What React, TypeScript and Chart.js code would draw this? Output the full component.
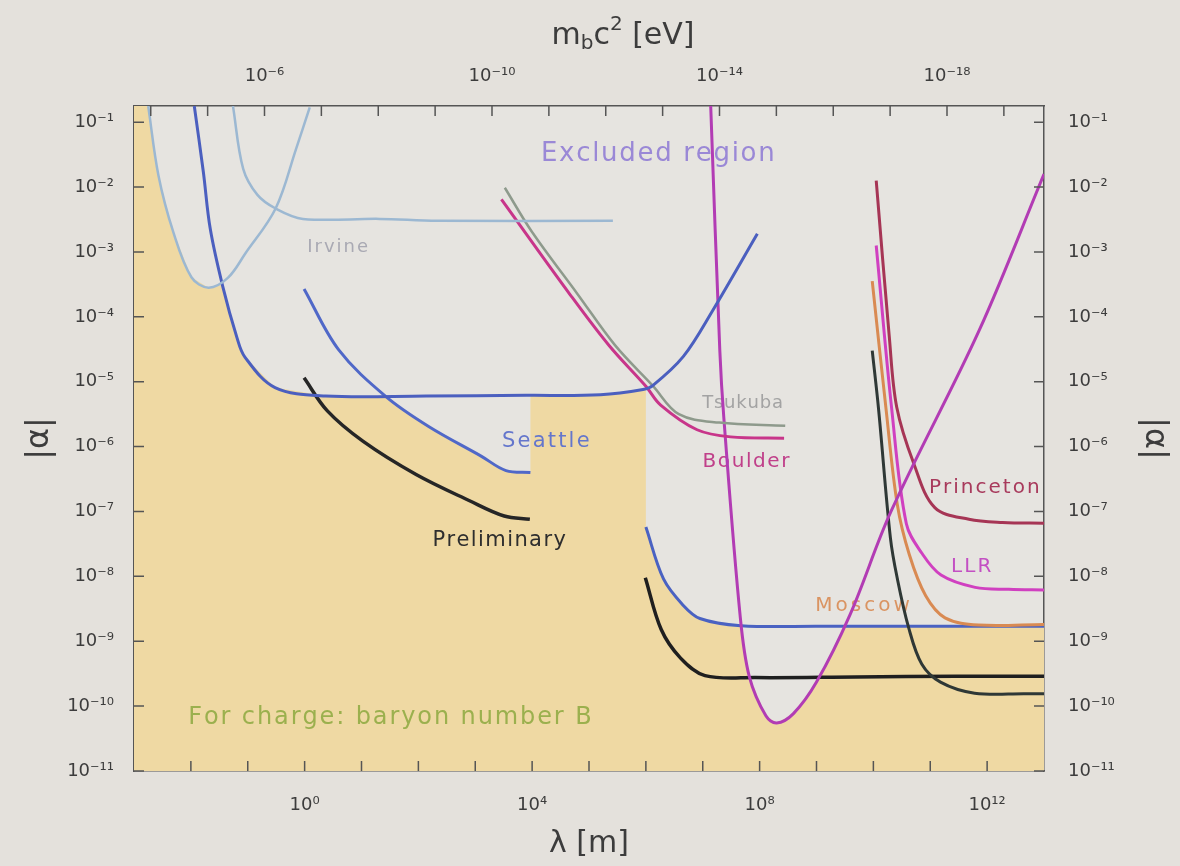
import React, { useEffect, useRef } from "react";
import { Chart, registerables } from "chart.js";

Chart.register(...registerables);

// ---------- axis definitions (exponents) ----------
const HBAR_C_EV_M = 1.97e-7; // m_b c^2 [eV] = ħc / λ
const xTickExps = [-2, -1, 0, 1, 2, 3, 4, 5, 6, 7, 8, 9, 10, 11, 12];
const xLabelExps = [0, 4, 8, 12];
const topMassExps = [-4, -5, -6, -7, -8, -9, -10, -11, -12, -13, -14, -15, -16, -17, -18, -19];
const topLabelExps = [-6, -10, -14, -18];
const yTickExps = [-1, -2, -3, -4, -5, -6, -7, -8, -9, -10, -11];

// ---------- curves: log10 λ [m] and log10 |α| ----------
const irvineALogLambda = [-2.75, -2.57, -2.31, -1.99, -1.69, -1.35, -1.04, -0.51, -0.15, 0.09];
const irvineALogAlpha = [-0.75, -1.82, -2.69, -3.39, -3.55, -3.4, -3.02, -2.33, -1.41, -0.77];

const irvineBLogLambda = [-1.26, -1.08, -0.83, -0.51, -0.03, 1.32, 2.33, 5.42];
const irvineBLogAlpha = [-0.75, -1.72, -2.12, -2.33, -2.49, -2.49, -2.52, -2.52];

const eotWashLogLambda = [-1.94, -1.78, -1.66, -1.44, -1.19, -1.05, -0.52, 0.37, 2.14, 3.9, 5.2, 5.95, 6.12, 6.66, 7.17, 7.96];
const eotWashLogAlpha = [-0.75, -1.77, -2.64, -3.53, -4.32, -4.62, -5.09, -5.22, -5.22, -5.21, -5.2, -5.12, -5.06, -4.61, -3.91, -2.72];

const seattleLogLambda = [-0.01, 0.6, 1.43, 2.18, 3.11, 3.54, 3.97];
const seattleLogAlpha = [-3.57, -4.51, -5.23, -5.69, -6.15, -6.37, -6.4];

const prelimLogLambda = [-0.01, 0.4, 1.03, 1.96, 2.89, 3.51, 3.96];
const prelimLogAlpha = [-4.94, -5.45, -5.92, -6.43, -6.83, -7.07, -7.12];

const tsukubaLogLambda = [3.52, 3.99, 4.8, 5.46, 6.12, 6.58, 7.29, 8.45];
const tsukubaLogAlpha = [-2.01, -2.68, -3.65, -4.44, -5.06, -5.5, -5.63, -5.68];

const boulderLogLambda = [3.46, 4.67, 5.36, 6.0, 6.26, 6.9, 7.49, 8.43];
const boulderLogAlpha = [-2.19, -3.66, -4.45, -5.07, -5.36, -5.74, -5.85, -5.87];

const dipLogLambda = [7.14, 7.3, 7.37, 7.66, 7.82, 8.11, 8.3, 8.59, 9.0, 9.59, 10.31, 11.86, 13.0];
const dipLogAlpha = [-0.75, -4.52, -5.55, -8.63, -9.55, -10.15, -10.26, -10.12, -9.63, -8.59, -7.0, -4.21, -1.8];

const princetonLogLambda = [10.05, 10.28, 10.41, 10.71, 11.08, 11.68, 12.27, 13.0];
const princetonLogAlpha = [-1.9, -4.31, -5.39, -6.26, -6.94, -7.12, -7.17, -7.18];

const llrLogLambda = [10.05, 10.32, 10.58, 10.85, 11.19, 11.79, 12.38, 13.0];
const llrLogAlpha = [-2.9, -5.4, -7.19, -7.64, -7.98, -8.17, -8.2, -8.21];

const moscowLogLambda = [9.98, 10.22, 10.42, 10.63, 10.92, 11.26, 11.85, 13.0];
const moscowLogAlpha = [-3.45, -5.4, -6.89, -7.66, -8.3, -8.64, -8.75, -8.74];

const newBlackRightLogLambda = [9.98, 10.09, 10.3, 10.42, 10.62, 10.85, 11.18, 11.78, 12.67, 13.0];
const newBlackRightLogAlpha = [-4.52, -5.41, -7.41, -8.03, -8.79, -9.35, -9.63, -9.8, -9.81, -9.81];

const newBlueLogLambda = [6.0, 6.31, 6.65, 6.95, 7.67, 9.03, 10.49, 11.38, 13.0];
const newBlueLogAlpha = [-7.24, -8.04, -8.44, -8.65, -8.76, -8.77, -8.77, -8.77, -8.77];

const newBlackLogLambda = [5.99, 6.27, 6.61, 7.04, 7.93, 9.69, 11.46, 13.0];
const newBlackLogAlpha = [-8.02, -8.82, -9.26, -9.53, -9.56, -9.55, -9.54, -9.54];

// allowed region (shaded) upper boundary
const allowedLogLambda = [-3, -2.75, -2.57, -2.31, -1.99, -1.69, -1.45, -1.19, -1.05, -0.52, 0.37, 1.43, 2.18, 3.11, 3.54, 3.97, 3.97, 5.2, 6.0, 6.0, 6.31, 6.65, 6.95, 7.67, 7.82, 8.11, 8.3, 8.59, 9.0, 9.5, 11.38, 13];
const allowedLogAlpha = [-0.75, -0.75, -1.82, -2.69, -3.39, -3.55, -3.5, -4.32, -4.62, -5.09, -5.22, -5.23, -5.69, -6.15, -6.37, -6.4, -5.21, -5.2, -5.1, -7.24, -8.04, -8.44, -8.65, -8.76, -9.55, -10.15, -10.26, -10.12, -9.63, -8.77, -8.77, -8.75];

// text annotations (anchored in data coordinates: log10 λ, log10 |α|)
const annotationTexts = ["Excluded region", "Irvine", "Seattle", "Preliminary", "Tsukuba", "Boulder", "Princeton", "LLR", "Moscow", "For charge: baryon number B"];
const annotationLogLambda = [6.21, 0.58, 4.24, 3.42, 7.7, 7.76, 11.95, 11.72, 9.81, 1.5];
const annotationLogAlpha = [-1.49, -2.93, -5.92, -7.45, -5.33, -6.24, -6.64, -7.85, -8.46, -10.18];

// ---------- styles ----------
const FONT = "'DejaVu Sans', 'Noto Sans', sans-serif";
const BG = "#e4e1dc";
const PLOT_BG = "#e6e4e0";
const FRAME = "#555555";
const TICK = "#3c3c3c";
const TAN = "#efd9a3";
const annotationColors = ["#9a88d6", "#a9a9b3", "#6476cc", "#2e2e2e", "#a3a3a3", "#c0408a", "#a83a5c", "#c350c3", "#da9462", "#9bb04e"];
const annotationSizes = [26, 18, 21, 21, 18, 20, 20, 20, 20, 24];
const annotationSpacing = [1.7, 2, 2.2, 1.4, 0.8, 1.6, 2, 2, 3, 1.9];

const SUP: Record<string, string> = { "-": "⁻", "0": "⁰", "1": "¹", "2": "²", "3": "³", "4": "⁴", "5": "⁵", "6": "⁶", "7": "⁷", "8": "⁸", "9": "⁹" };
const pow10Label = (e: number) => "10" + String(e).split("").map((c) => SUP[c]).join("");

const toPoints = (xs: number[], ys: number[]) => xs.map((x, i) => ({ x: 10 ** x, y: 10 ** ys[i] }));

const curve = (label: string, xs: number[], ys: number[], color: string, width: number) => ({
  label,
  data: toPoints(xs, ys),
  borderColor: color,
  backgroundColor: color,
  borderWidth: width,
  pointRadius: 0,
  showLine: true,
  tension: 0.35,
  fill: false,
  order: 1,
});

const backgroundPlugin = {
  id: "bgPlugin",
  beforeDraw(chart: any) {
    const { ctx, chartArea: a, width, height } = chart;
    ctx.save();
    ctx.fillStyle = BG;
    ctx.fillRect(0, 0, width, height);
    ctx.fillStyle = PLOT_BG;
    ctx.fillRect(a.left, a.top, a.right - a.left, a.bottom - a.top);
    ctx.restore();
  },
};

const annotationPlugin = {
  id: "annotationPlugin",
  beforeDatasetsDraw(chart: any) {
    const { ctx, scales } = chart;
    ctx.save();
    ctx.textAlign = "left";
    ctx.textBaseline = "middle";
    annotationTexts.forEach((t, i) => {
      const px = scales.x.getPixelForValue(10 ** annotationLogLambda[i]);
      const py = scales.y.getPixelForValue(10 ** annotationLogAlpha[i]);
      ctx.fillStyle = annotationColors[i];
      ctx.font = `${annotationSizes[i]}px ${FONT}`;
      const ls = annotationSpacing[i];
      let w = 0;
      for (const ch of t) w += ctx.measureText(ch).width + ls;
      w -= ls;
      let x = px - w / 2;
      for (const ch of t) {
        ctx.fillText(ch, x, py);
        x += ctx.measureText(ch).width + ls;
      }
    });
    ctx.restore();
  },
};

const frameTicksPlugin = {
  id: "frameTicks",
  afterDraw(chart: any) {
    const { ctx, chartArea: a, scales } = chart;
    const len = 10;
    ctx.save();
    ctx.strokeStyle = FRAME;
    ctx.lineWidth = 1.5;
    ctx.beginPath();
    scales.x.ticks.forEach((t: any) => {
      const p = scales.x.getPixelForValue(t.value);
      ctx.moveTo(p, a.bottom);
      ctx.lineTo(p, a.bottom - len);
    });
    scales.xTop.ticks.forEach((t: any) => {
      const p = scales.xTop.getPixelForValue(t.value);
      ctx.moveTo(p, a.top);
      ctx.lineTo(p, a.top + len);
    });
    scales.y.ticks.forEach((t: any) => {
      const p = scales.y.getPixelForValue(t.value);
      ctx.moveTo(a.left, p);
      ctx.lineTo(a.left + len, p);
    });
    scales.yRight.ticks.forEach((t: any) => {
      const p = scales.yRight.getPixelForValue(t.value);
      ctx.moveTo(a.right, p);
      ctx.lineTo(a.right - len, p);
    });
    ctx.stroke();

    // top axis title: m_b c^2 [eV]
    const parts = [
      { t: "m", s: 30, dy: 0 },
      { t: "b", s: 20, dy: 8 },
      { t: "c", s: 30, dy: 0 },
      { t: "2", s: 20, dy: -11 },
      { t: " [eV]", s: 30, dy: 0 },
    ];
    let total = 0;
    parts.forEach((p) => {
      ctx.font = `${p.s}px ${FONT}`;
      total += ctx.measureText(p.t).width;
    });
    let x = (a.left + a.right) / 2 + 34 - total / 2;
    const y = 36;
    ctx.fillStyle = TICK;
    ctx.textBaseline = "middle";
    ctx.textAlign = "left";
    parts.forEach((p) => {
      ctx.font = `${p.s}px ${FONT}`;
      ctx.fillText(p.t, x, y + p.dy);
      x += ctx.measureText(p.t).width;
    });
    ctx.restore();
  },
};

const yScale = (position: "left" | "right", width: number, pad: number, titlePad: number) => ({
  type: "logarithmic",
  position,
  min: 1e-11,
  max: 10 ** -0.75,
  afterBuildTicks: (s: any) => {
    s.ticks = yTickExps.map((e) => ({ value: 10 ** e }));
  },
  afterFit: (s: any) => {
    s.width = width;
  },
  grid: { display: false, drawTicks: false },
  border: { display: true, color: FRAME, width: 1.5 },
  ticks: {
    autoSkip: false,
    padding: pad,
    color: TICK,
    font: { family: FONT, size: 18 },
    callback: (v: any) => pow10Label(Math.round(Math.log10(Number(v)))),
  },
  title: { display: true, text: "|α|", color: TICK, font: { family: FONT, size: 32 }, padding: { top: titlePad, bottom: 0 } },
});

export default function App() {
  const ref = useRef<HTMLCanvasElement | null>(null);

  useEffect(() => {
    if (!ref.current) return;
    const datasets: any[] = [
      {
        label: "allowed",
        data: toPoints(allowedLogLambda, allowedLogAlpha),
        borderColor: "rgba(0,0,0,0)",
        borderWidth: 0,
        backgroundColor: TAN,
        pointRadius: 0,
        showLine: true,
        tension: 0,
        fill: "start",
        order: 10,
      },
      curve("Irvine A", irvineALogLambda, irvineALogAlpha, "#9cb8d2", 2.5),
      curve("Irvine B", irvineBLogLambda, irvineBLogAlpha, "#9cb8d2", 2.5),
      curve("Eöt-Wash", eotWashLogLambda, eotWashLogAlpha, "#4b5fbf", 3),
      curve("Seattle", seattleLogLambda, seattleLogAlpha, "#5068c8", 3),
      curve("Preliminary", prelimLogLambda, prelimLogAlpha, "#262626", 3.5),
      curve("Tsukuba", tsukubaLogLambda, tsukubaLogAlpha, "#8e9a8c", 2.5),
      curve("Boulder", boulderLogLambda, boulderLogAlpha, "#c8358a", 3),
      curve("Dip", dipLogLambda, dipLogAlpha, "#b23cb4", 3),
      curve("Princeton", princetonLogLambda, princetonLogAlpha, "#a63555", 3),
      curve("LLR", llrLogLambda, llrLogAlpha, "#d040c0", 3),
      curve("Moscow", moscowLogLambda, moscowLogAlpha, "#d98a52", 3),
      curve("New black right", newBlackRightLogLambda, newBlackRightLogAlpha, "#2f3836", 3),
      curve("New blue", newBlueLogLambda, newBlueLogAlpha, "#4a62c2", 3),
      curve("New black", newBlackLogLambda, newBlackLogAlpha, "#1f1f1f", 3.5),
    ];

    const chart = new Chart(ref.current, {
      type: "scatter",
      data: { datasets },
      options: {
        responsive: false,
        animation: false,
        devicePixelRatio: 1,
        layout: { padding: 0 },
        plugins: {
          legend: { display: false },
          tooltip: { enabled: false },
          filler: { drawTime: "beforeDatasetsDraw" },
        } as any,
        scales: {
          x: {
            type: "logarithmic",
            position: "bottom",
            min: 1e-3,
            max: 1e13,
            afterBuildTicks: (s: any) => {
              s.ticks = xTickExps.map((e) => ({ value: 10 ** e }));
            },
            afterFit: (s: any) => {
              s.height = 95;
            },
            grid: { display: false, drawTicks: false },
            border: { display: true, color: FRAME, width: 1.5 },
            ticks: {
              autoSkip: false,
              maxRotation: 0,
              padding: 24,
              color: TICK,
              font: { family: FONT, size: 18 },
              callback: (v: any) => {
                const e = Math.round(Math.log10(Number(v)));
                return xLabelExps.includes(e) ? pow10Label(e) : "";
              },
            },
            title: { display: true, text: "λ [m]", color: TICK, font: { family: FONT, size: 30 }, padding: { top: 0, bottom: 4 } },
          },
          xTop: {
            type: "logarithmic",
            position: "top",
            min: 1e-3,
            max: 1e13,
            afterBuildTicks: (s: any) => {
              s.ticks = topMassExps.map((e) => ({ value: HBAR_C_EV_M / 10 ** e }));
            },
            afterFit: (s: any) => {
              s.height = 106;
            },
            grid: { display: false, drawTicks: false },
            border: { display: true, color: FRAME, width: 1.5 },
            ticks: {
              autoSkip: false,
              maxRotation: 0,
              padding: 19,
              color: TICK,
              font: { family: FONT, size: 18 },
              callback: (v: any) => {
                const e = Math.round(Math.log10(HBAR_C_EV_M / Number(v)));
                return topLabelExps.includes(e) ? pow10Label(e) : "";
              },
            },
            title: { display: false },
          },
          y: yScale("left", 134, 20, 20) as any,
          yRight: yScale("right", 136, 24, 6) as any,
        } as any,
      },
      plugins: [backgroundPlugin, annotationPlugin, frameTicksPlugin],
    });
    return () => chart.destroy();
  }, []);

  return (
    <div style={{ position: "fixed", left: 0, top: 0, width: 1180, height: 866, background: BG }}>
      <canvas ref={ref} width={1180} height={866} style={{ display: "block", width: 1180, height: 866 }} />
    </div>
  );
}
